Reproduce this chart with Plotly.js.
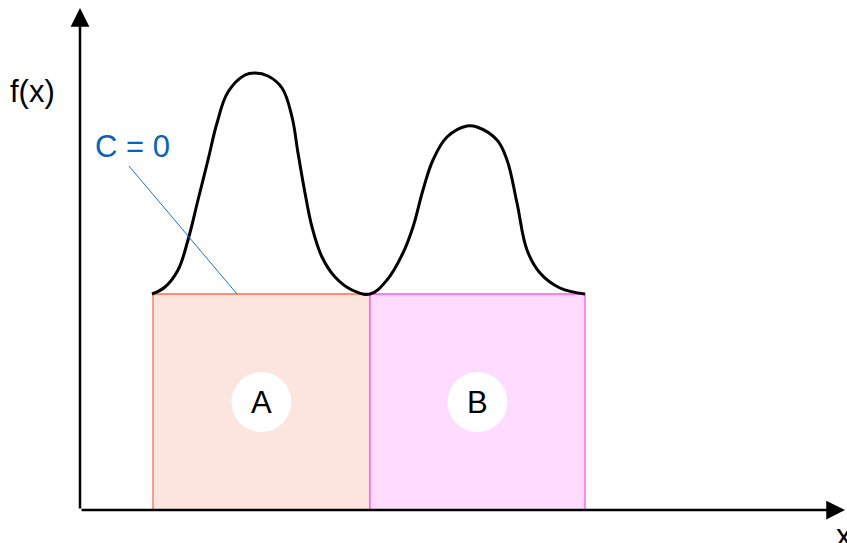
<!DOCTYPE html>
<html>
<head>
<meta charset="utf-8">
<script src="https://cdn.plot.ly/plotly-3.0.1.min.js"></script>
<style>
  html, body { margin: 0; padding: 0; background: #fff; }
  #chart { width: 847px; height: 543px; }
</style>
</head>
<body>
<div id="chart"></div>
<script>
// curve
var curveX = [0.72, 0.85, 0.98, 1.08, 1.18, 1.28, 1.37, 1.48, 1.65, 1.75, 1.88, 2.02, 2.12, 2.18, 2.25, 2.32, 2.42, 2.55, 2.72, 2.90,
              3.07, 3.23, 3.33, 3.43, 3.53, 3.67, 3.87, 3.97, 4.17, 4.27, 4.37, 4.47, 4.60, 4.80, 5.05];
var curveY = [2.16, 2.23, 2.40, 2.70, 3.10, 3.50, 3.87, 4.18, 4.35, 4.37, 4.34, 4.22, 3.93, 3.57, 3.17, 2.83, 2.53, 2.33, 2.20, 2.16,
              2.30, 2.57, 2.83, 3.20, 3.50, 3.73, 3.84, 3.83, 3.70, 3.50, 3.07, 2.60, 2.37, 2.22, 2.16];

// regions under the curve
var regionNames = ['A', 'B'];
var regionEdges = [0.73, 2.90, 5.05];
var regionTop = 2.16;
var regionFill = ['#fce5de', '#ffdcff'];
var regionLine = ['#ff7048', '#ff55ff'];

var xMax = 7.65, yMax = 5.02;

var data = [{
    x: curveX,
    y: curveY,
    mode: 'lines',
    line: { color: '#000', width: 3, shape: 'spline', smoothing: 1.1 },
    hoverinfo: 'skip'
}];

var shapes = [];
var annotations = [];

for (let i = 0; i < regionNames.length; i++)
{
    let x0 = regionEdges[i], x1 = regionEdges[i + 1];
    shapes.push({
        type: 'rect', layer: 'below',
        x0: x0, x1: x1, y0: 0, y1: regionTop,
        fillcolor: regionFill[i],
        line: { color: regionLine[i], width: 1.3 }
    });
    let cx = (x0 + x1) / 2;
    shapes.push({
        type: 'circle', layer: 'below',
        x0: cx - 0.3, x1: cx + 0.3, y0: 0.78, y1: 1.38,
        fillcolor: '#fff', line: { width: 0 }
    });
    annotations.push({
        x: cx, y: 1.08, text: regionNames[i], showarrow: false,
        font: { size: 31, color: '#000' }
    });
}

// leader line for the label
shapes.push({
    type: 'line', x0: 0.49, y0: 3.44, x1: 1.57, y1: regionTop,
    line: { color: '#1f6fc4', width: 1 }
});

// axes with arrows
annotations.push({
    x: xMax, y: 0, ax: 0, ay: 0, axref: 'x', ayref: 'y',
    showarrow: true, arrowhead: 2, arrowsize: 1.5, arrowwidth: 2.5, arrowcolor: '#000', text: ''
});
annotations.push({
    x: 0, y: yMax, ax: 0, ay: 0, axref: 'x', ayref: 'y',
    showarrow: true, arrowhead: 2, arrowsize: 1.5, arrowwidth: 2.5, arrowcolor: '#000', text: ''
});

// text outside the axes, placed in paper units
annotations.push({ xref: 'paper', yref: 'paper', x: -0.48 / xMax, y: 4.18 / yMax, text: 'f(x)',
    xanchor: 'center', yanchor: 'middle', showarrow: false, font: { size: 31, color: '#000' } });
annotations.push({ x: 0.52, y: 3.64, text: 'C = 0', showarrow: false, font: { size: 31, color: '#0b63b8' } });
annotations.push({ xref: 'paper', yref: 'paper', x: 7.64 / xMax, y: -0.25 / yMax, text: 'x',
    xanchor: 'center', yanchor: 'middle', showarrow: false, font: { size: 31, color: '#000' } });

var layout = {
    width: 847, height: 543,
    margin: { l: 80, r: 2, t: 8, b: 33 },
    paper_bgcolor: '#fff', plot_bgcolor: '#fff',
    showlegend: false,
    font: { family: 'Liberation Sans, Arial, sans-serif' },
    xaxis: { range: [0, xMax], visible: false, fixedrange: true },
    yaxis: { range: [0, yMax], visible: false, fixedrange: true },
    shapes: shapes,
    annotations: annotations
};

Plotly.newPlot('chart', data, layout, { displayModeBar: false, staticPlot: true });
</script>
</body>
</html>
